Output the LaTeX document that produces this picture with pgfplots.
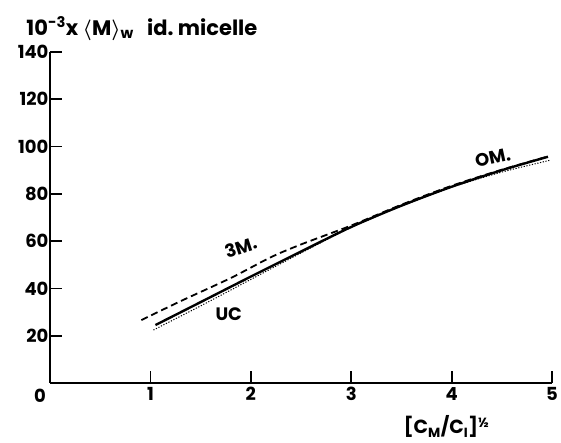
\documentclass[border=0pt]{standalone}
\usepackage{pgfplots}
\pgfplotsset{compat=1.18}
\usepackage{fontspec}
\setmainfont{Poppins}
\begin{document}
\begin{tikzpicture}
\useasboundingbox (-50pt,-60pt) rectangle (511pt,383pt);
\begin{axis}[
  scale only axis,
  width=502pt, height=331pt,
  xmin=0, xmax=5, ymin=0, ymax=140,
  axis lines=left,
  axis line style={line width=2pt, -},
  xtick={1,2,3,4,5},
  ytick={20,40,60,80,100,120,140},
  tick align=inside,
  major tick length=12pt,
  tick style={line width=1.8pt, black},
  ticklabel style={font=\fontsize{18}{20}\selectfont\bfseries},
  /pgf/number format/assume math mode=true,
  xticklabel style={yshift=-1pt},
  yticklabel style={xshift=2pt},
  clip=false,
]
% UC, ultracentrifuge
\addplot[black, line width=2.4pt, smooth] coordinates {
  (1.05,24.5) (1.5,34.2) (2.0,45.0) (2.5,55.6) (3.0,66.0)
  (3.5,75.0) (4.0,83.0) (4.5,90.0) (4.96,95.7)
};
% 3M, light scattering
\addplot[black, line width=1.8pt, dash pattern=on 7pt off 4pt, smooth] coordinates {
  (0.91,26.6) (1.3,34.6) (1.8,44.4) (2.2,53.2) (2.5,58.6) (3.0,66.6)
  (3.5,75.4) (4.0,83.4) (4.5,90.2) (4.96,95.8)
};
% OM, osmometry
\addplot[black, line width=1.0pt, dash pattern=on 1.2pt off 1.6pt, smooth] coordinates {
  (1.03,22.4) (1.5,32.6) (2.0,43.8) (2.5,55.0) (3.0,65.8)
  (3.5,74.8) (4.0,82.8) (4.5,89.2) (4.98,94.2)
};
\node[font=\fontsize{18}{20}\selectfont\bfseries, rotate=18, inner sep=0pt] at (axis cs:1.90,57.5) {3M.};
\node[font=\fontsize{18}{20}\selectfont\bfseries, inner sep=0pt] at (axis cs:1.78,29.0) {UC};
\node[font=\fontsize{18}{20}\selectfont\bfseries, rotate=12, inner sep=0pt] at (axis cs:4.41,95.2) {OM.};
\node[font=\fontsize{18}{20}\selectfont\bfseries] at (axis cs:-0.10,-5.5) {0};
\node[font=\fontsize{21}{23}\selectfont\bfseries, anchor=base west] at (axis cs:-0.27,147)
  {10\textsuperscript{-3}x {\boldmath$\langle$}M{\boldmath$\rangle$}\textsubscript{w}\ \ \ id.\ micelle};
\node[font=\fontsize{19}{21}\selectfont\bfseries, anchor=base west] at (axis cs:3.49,-21.5)
  {[C\textsubscript{M}/C\textsubscript{I}]\textsuperscript{½}};
\end{axis}
\end{tikzpicture}
\end{document}
